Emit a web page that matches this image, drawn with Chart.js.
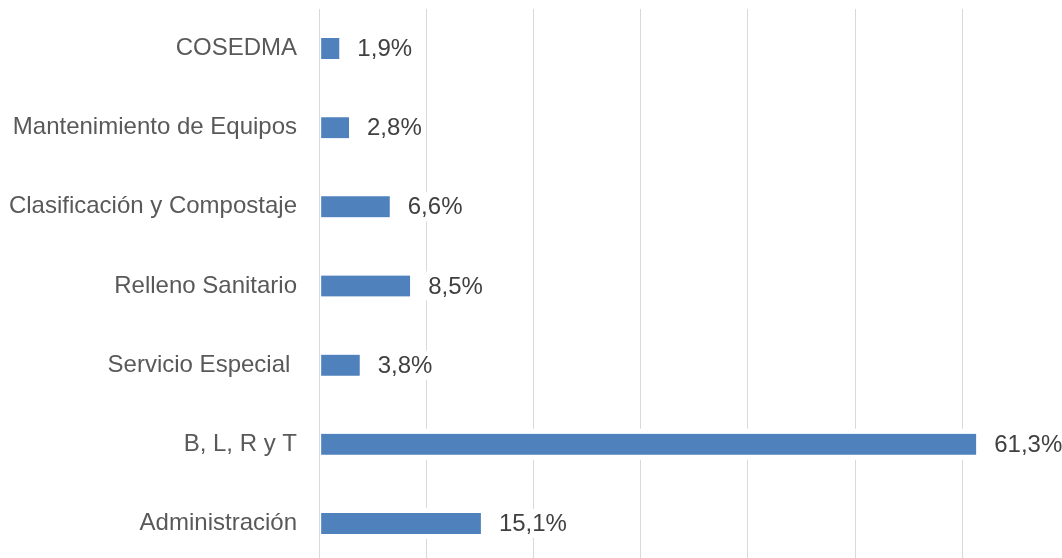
<!DOCTYPE html>
<html>
<head>
<meta charset="utf-8">
<script src="https://cdn.jsdelivr.net/npm/chart.js@4"></script>
<style>
  html, body { margin: 0; padding: 0; background: #fff; overflow: hidden; }
  canvas { display: block; }
</style>
</head>
<body>
<canvas id="c" width="1062" height="566" style="width:1062px;height:566px"></canvas>
<script>
const categories = ['COSEDMA', 'Mantenimiento de Equipos', 'Clasificación y Compostaje', 'Relleno Sanitario', 'Servicio Especial ', 'B, L, R y T', 'Administración'];
const values = [1.9, 2.8, 6.6, 8.5, 3.8, 61.3, 15.1];
const gridTicks = [0, 10, 20, 30, 40, 50, 60];

const FONT = '"Liberation Sans", Arial, sans-serif';
const FS = 24;

const fmt = v => v.toFixed(1).replace('.', ',') + '%';

const padPlugin = {
  id: 'padPlugin',
  beforeDatasetsDraw(chart) {
    const ctx = chart.ctx;
    const meta = chart.getDatasetMeta(0);
    ctx.save();
    ctx.fillStyle = '#ffffff';
    ctx.font = FS + 'px ' + FONT;
    meta.data.forEach((bar, i) => {
      const h = bar.height;
      const left = chart.chartArea.left + 1;
      ctx.fillRect(left, bar.y - h / 2 - 5, bar.x - left + 3, h + 10);
      const txt = fmt(values[i]);
      const w = ctx.measureText(txt).width;
      const tx = bar.x + 18;
      ctx.fillRect(tx - 3, bar.y - 14.5, w + 6, 29);
    });
    ctx.restore();
  },
  afterDatasetsDraw(chart) {
    const ctx = chart.ctx;
    const meta = chart.getDatasetMeta(0);
    const ca = chart.chartArea;
    ctx.save();
    ctx.strokeStyle = '#D9D9D9';
    ctx.lineWidth = 1;
    const x0 = Math.round(chart.scales.x.getPixelForValue(0)) + 0.5;
    ctx.beginPath();
    ctx.moveTo(x0, ca.top);
    ctx.lineTo(x0, ca.bottom);
    ctx.stroke();
    ctx.font = FS + 'px ' + FONT;
    ctx.fillStyle = '#404040';
    ctx.textAlign = 'left';
    ctx.textBaseline = 'middle';
    meta.data.forEach((bar, i) => {
      ctx.fillText(fmt(values[i]), bar.x + 18, bar.y + 1);
    });
    ctx.restore();
  }
};

new Chart(document.getElementById('c'), {
  type: 'bar',
  data: {
    labels: categories,
    datasets: [{
      data: values,
      backgroundColor: '#4F81BD',
      borderColor: '#ffffff',
      borderWidth: { left: 2, top: 0, right: 0, bottom: 0 },
      borderSkipped: false,
      barThickness: 21
    }]
  },
  options: {
    indexAxis: 'y',
    responsive: false,
    maintainAspectRatio: false,
    devicePixelRatio: 1,
    animation: false,
    layout: { padding: { top: 9, bottom: 3, left: 0, right: 0 } },
    plugins: {
      legend: { display: false },
      tooltip: { enabled: false }
    },
    scales: {
      x: {
        min: 0,
        max: 69.3,
        afterBuildTicks(scale) {
          scale.ticks = gridTicks.map(v => ({ value: v }));
        },
        afterFit(scale) { scale.height = 0; scale.paddingLeft = 0; scale.paddingRight = 0; },
        ticks: { display: false },
        grid: { color: '#D9D9D9', lineWidth: 1, drawTicks: false },
        border: { display: false }
      },
      y: {
        afterFit(scale) { scale.width = 319; scale.paddingTop = 0; scale.paddingBottom = 0; },
        ticks: {
          color: '#595959',
          font: { family: FONT, size: FS },
          padding: 22,
          autoSkip: false
        },
        grid: { display: false, drawTicks: false },
        border: { display: false }
      }
    }
  },
  plugins: [padPlugin]
});
</script>
</body>
</html>
